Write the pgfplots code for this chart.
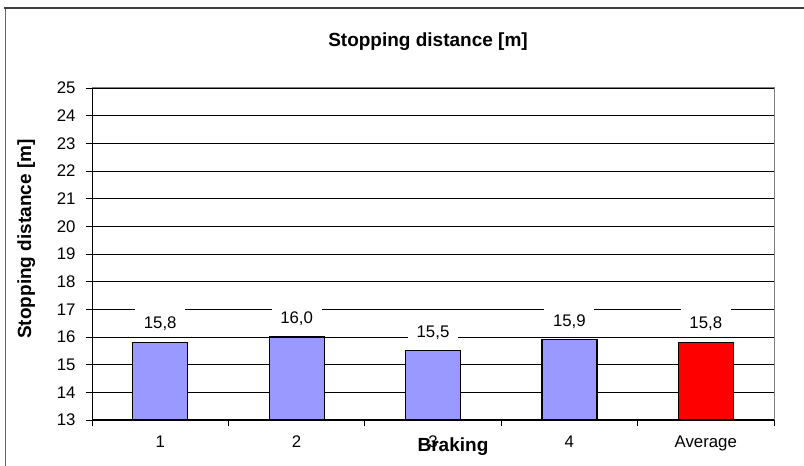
\documentclass[border=0pt]{standalone}
\usepackage{fontspec}
\setmainfont{Liberation Sans}
\usepackage{pgfplots}
\pgfplotsset{compat=1.18}
\definecolor{barblue}{HTML}{9999FF}
\begin{document}
\begin{tikzpicture}[x=1pt,y=1pt]
\useasboundingbox (0,0) rectangle (804,466);
\draw[line width=1pt, color=black!60] (5,0) -- (5,458);
\draw[line width=2pt, color=black!75] (4,458) -- (804,458);
\begin{axis}[
  at={(92pt,46pt)}, anchor=south west, scale only axis,
  width=682pt, height=332pt,
  xmin=-0.5, xmax=4.5, ymin=13, ymax=25,
  ytick={13,...,25},
  xtick={0,...,4}, xticklabels={1,2,3,4,Average},
  minor xtick={-0.5,0.5,...,4.5},
  xtick pos=bottom, ytick pos=left,
  ymajorgrids, grid style={black, line width=0.9pt},
  axis line style={draw=gray, line width=1pt},
  tick align=outside, major tick length=6pt, minor tick length=6pt,
  major x tick style={draw=none},
  minor x tick style={black, line width=0.9pt},
  ytick style={black, line width=0.9pt},
  ticklabel style={font=\fontsize{16.8}{18}\selectfont, text=black},
  yticklabel style={xshift=-7pt},
  xticklabel style={yshift=-6pt},
  /pgf/number format/assume math mode=true,
  ybar, bar width=55pt, bar shift=0pt,
  nodes near coords,
  every node near coord/.append style={
    /pgf/number format/.cd, fixed, fixed zerofill, precision=1, use comma, assume math mode=true,
    /tikz/.cd, font=\fontsize{16.8}{18}\selectfont, fill=white, anchor=base,
    text height=16pt, text depth=0pt, inner ysep=6pt, minimum width=50pt,
    yshift=13.6pt, text=black},
]
\addplot[fill=barblue, draw=black, line width=1.2pt] coordinates {(0,15.8) (1,16.0) (2,15.5) (3,15.9)};
\addplot[fill=red, draw=black, line width=1.2pt] coordinates {(4,15.8)};
\end{axis}
\draw[black, line width=1pt] (92,378) -- (92,46) -- (774,46);
\node[font=\bfseries\fontsize{19}{22}\selectfont, anchor=base] at (428,419) {Stopping distance [m]};
\node[font=\bfseries\fontsize{19}{22}\selectfont, anchor=base, rotate=90] at (31,227) {Stopping distance [m]};
\node[font=\bfseries\fontsize{19}{22}\selectfont, anchor=base] at (453,14.4) {Braking};
\end{tikzpicture}
\end{document}
